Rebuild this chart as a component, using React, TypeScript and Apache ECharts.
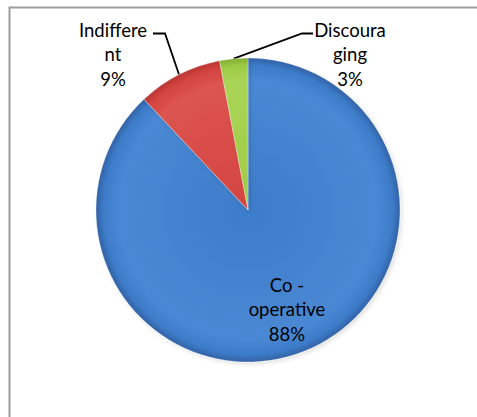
import React, { useEffect, useRef } from "react";
import * as echarts from "echarts";

const categories = ["Co -\noperative", "Indiffere\nnt", "Discoura\nging"];
const values = [88, 9, 3];
const baseColors = ["#3d7cc9", "#d4443f", "#9dcb46"];
const edgeColors = ["#3262a6", "#b63531", "#82ad34"];
const lightColors = ["#4a88d4", "#dc5450", "#aad456"];

const CX = 248;
const CY = 210;
const R = 152;

export default function App() {
  const ref = useRef<HTMLDivElement>(null);
  useEffect(() => {
    if (!ref.current) return;
    const chart = echarts.init(ref.current, null, { renderer: "svg" });
    const data = categories.map((name, i) => ({
      name,
      value: values[i],
      itemStyle: {
        color: {
          type: "radial",
          x: CX,
          y: CY,
          r: R,
          global: true,
          colorStops: [
            { offset: 0, color: baseColors[i] },
            { offset: 0.85, color: lightColors[i] },
            { offset: 0.95, color: baseColors[i] },
            { offset: 1, color: edgeColors[i] },
          ],
        },
      },
      label: i === 0 ? { position: "inside" } : { position: "outside" },
      labelLine: { show: i !== 0 },
    }));
    chart.setOption({
      animation: false,
      backgroundColor: "#ffffff",
      graphic: [
        {
          type: "polyline",
          shape: { points: [[9.5, 417], [9.5, 7.5], [477, 7.5]] },
          style: { stroke: "#9c9c9c", lineWidth: 2, fill: null },
          silent: true,
        },
      ],
      series: [
        {
          type: "pie",
          center: [CX, CY],
          radius: [0, R],
          startAngle: 90,
          clockwise: true,
          data,
          avoidLabelOverlap: false,
          itemStyle: {
            borderWidth: 0.5,
            borderColor: "rgba(255,255,255,0.6)",
            shadowColor: "rgba(0,0,0,0.12)",
            shadowBlur: 4,
            shadowOffsetX: 2,
            shadowOffsetY: 2,
          },
          label: {
            show: true,
            formatter: (p: any) => `${p.name}\n${p.value}%`,
            fontFamily: "Lato, 'Open Sans', sans-serif",
            fontSize: 18.5,
            lineHeight: 24.5,
            color: "#000000",
            align: "center",
            overflow: "none",
            width: 120,
          },
          labelLine: {
            show: true,
            lineStyle: { color: "#000000", width: 1.8 },
          },
          labelLayout: (params: any) => {
            const i = params.dataIndex;
            const start =
              params.labelLinePoints && params.labelLinePoints[0]
                ? params.labelLinePoints[0]
                : [CX, CY - R];
            if (i === 0) {
              return { x: 287, y: 309, align: "center", verticalAlign: "middle" };
            }
            if (i === 1) {
              return {
                x: 113,
                y: 54,
                align: "center",
                verticalAlign: "middle",
                labelLinePoints: [start, [165, 33.5], [153, 33.5]],
              };
            }
            return {
              x: 350,
              y: 54,
              align: "center",
              verticalAlign: "middle",
              labelLinePoints: [start, [302, 33.5], [313, 33.5]],
            };
          },
        },
      ],
    });
    return () => chart.dispose();
  }, []);
  return (
    <div style={{ position: "absolute", left: 0, top: 0, width: 477, height: 417 }}>
      <div ref={ref} style={{ width: 477, height: 417 }} />
    </div>
  );
}
